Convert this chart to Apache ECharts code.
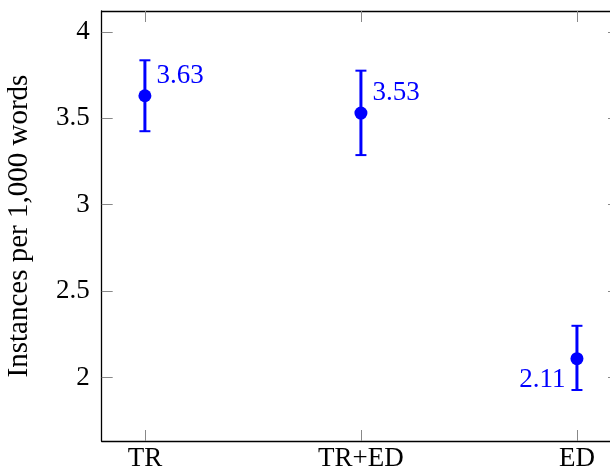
<!DOCTYPE html>
<html>
<head>
<meta charset="utf-8">
<script src="https://cdn.jsdelivr.net/npm/echarts@6/dist/echarts.min.js"></script>
<style>html,body{margin:0;padding:0;background:#fff;}#c{width:610px;height:472px;}</style>
</head>
<body>
<div id="c"></div>
<script>
var categories = ['TR', 'TR+ED', 'ED'];
var means = [3.63, 3.53, 2.11];
var lowers = [3.425, 3.287, 1.929];
var uppers = [3.835, 3.775, 2.30];
var yTicks = [2, 2.5, 3, 3.5, 4];
var labelTexts = ['3.63', '3.53', '2.11'];

var FONT = 'Liberation Serif';
var FS = 27;
var blue = '#0000ff';
var tickGray = '#888888';
var xIdx = categories.map(function (c, i) { return i; });

var chart = echarts.init(document.getElementById('c'));
var pointData = means.map(function (m, i) {
  var isLeft = i === 2;
  return {
    value: [xIdx[i], m],
    label: {
      show: true,
      formatter: labelTexts[i],
      position: isLeft ? 'left' : 'right',
      offset: isLeft ? [0, 21] : [0, -20],
      color: blue,
      fontFamily: FONT,
      fontSize: FS
    }
  };
});
var errData = means.map(function (m, i) { return [xIdx[i], lowers[i], uppers[i]]; });

chart.setOption({
  animation: false,
  grid: { left: 101.7, top: 11, right: 0, height: 430, outerBoundsMode: 'none', containLabel: false },
  xAxis: [{
    type: 'value', min: -0.2, max: 2.153, position: 'bottom',
    axisLine: { show: true, onZero: false, lineStyle: { color: '#000', width: 1.3 } },
    axisTick: { show: true, inside: true, length: 11, customValues: xIdx, lineStyle: { color: tickGray, width: 1 } },
    axisLabel: { show: true, customValues: xIdx, margin: 4, formatter: function (v) { return categories[Math.round(v)]; }, color: '#000', fontFamily: FONT, fontSize: FS },
    splitLine: { show: false }
  }, {
    type: 'value', min: -0.2, max: 2.153, position: 'top',
    axisLine: { show: true, onZero: false, lineStyle: { color: '#000', width: 1.3 } },
    axisTick: { show: true, inside: true, length: 11, customValues: xIdx, lineStyle: { color: tickGray, width: 1 } },
    axisLabel: { show: false },
    splitLine: { show: false }
  }],
  yAxis: [{
    type: 'value', min: 1.634, max: 4.12, position: 'left',
    name: 'Instances per 1,000 words', nameLocation: 'middle', nameGap: 68,
    nameTextStyle: { color: '#000', fontFamily: FONT, fontSize: 29 },
    axisLine: { show: true, onZero: false, lineStyle: { color: '#000', width: 1.3 } },
    axisTick: { show: true, inside: true, length: 11, customValues: yTicks, lineStyle: { color: tickGray, width: 1 } },
    axisLabel: { show: true, customValues: yTicks, margin: 12, color: '#000', fontFamily: FONT, fontSize: FS },
    splitLine: { show: false }
  }, {
    type: 'value', min: 1.634, max: 4.12, position: 'right',
    axisLine: { show: false, onZero: false },
    axisTick: { show: true, inside: true, length: 2, customValues: yTicks, lineStyle: { color: tickGray, width: 1 } },
    axisLabel: { show: false },
    splitLine: { show: false }
  }],
  series: [{
    type: 'custom',
    xAxisIndex: 0, yAxisIndex: 0,
    data: errData,
    renderItem: function (params, api) {
      var x = api.value(0);
      var lo = api.coord([x, api.value(1)]);
      var hi = api.coord([x, api.value(2)]);
      var cw = 5.5;
      var st = { stroke: blue, lineWidth: 3 };
      return {
        type: 'group',
        children: [
          { type: 'line', shape: { x1: lo[0], y1: lo[1], x2: hi[0], y2: hi[1] }, style: st },
          { type: 'line', shape: { x1: lo[0] - cw, y1: lo[1], x2: lo[0] + cw, y2: lo[1] }, style: { stroke: blue, lineWidth: 2 } },
          { type: 'line', shape: { x1: hi[0] - cw, y1: hi[1], x2: hi[0] + cw, y2: hi[1] }, style: { stroke: blue, lineWidth: 2 } }
        ]
      };
    },
    z: 2
  }, {
    type: 'scatter',
    xAxisIndex: 0, yAxisIndex: 0,
    symbol: 'circle', symbolSize: 13,
    itemStyle: { color: blue, opacity: 1 },
    data: pointData,
    z: 3
  }]
});
</script>
</body>
</html>
